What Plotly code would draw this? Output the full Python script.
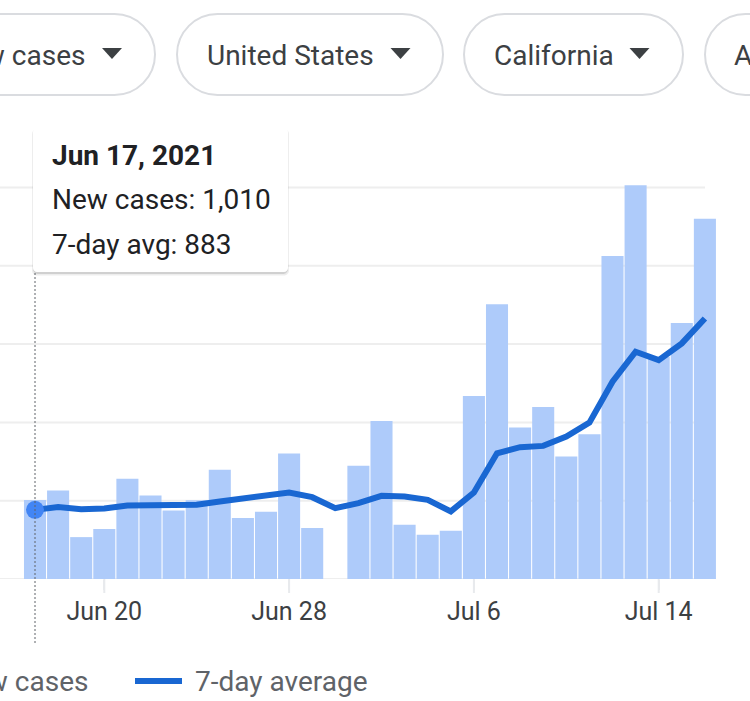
import plotly.graph_objects as go
import pandas as pd

# ---------------- data ----------------
dates = ["2021-06-17", "2021-06-18", "2021-06-19", "2021-06-20", "2021-06-21", "2021-06-22",
         "2021-06-23", "2021-06-24", "2021-06-25", "2021-06-26", "2021-06-27", "2021-06-28",
         "2021-06-29", "2021-06-30", "2021-07-01", "2021-07-02", "2021-07-03", "2021-07-04",
         "2021-07-05", "2021-07-06", "2021-07-07", "2021-07-08", "2021-07-09", "2021-07-10",
         "2021-07-11", "2021-07-12", "2021-07-13", "2021-07-14", "2021-07-15", "2021-07-16"]
new_cases = [1010, 1130, 535, 637, 1279, 1067, 875, 1007, 1394, 778, 858, 1602,
             650, None, 1445, 2019, 693, 565, 616, 2337, 3510, 1934, 2197, 1564,
             1849, 4125, 5030, 2840, 3270, 4600]
avg_7day = [883, 918, 892, 901, 939, 948, 948, 948, 990, 1024, 1054, 1105,
            1045, 905, 969, 1062, 1054, 1011, 863, 1105, 1606, 1683, 1700, 1819,
            1997, 2520, 2903, 2796, 3009, 3328]
tick_vals = ["2021-06-20", "2021-06-28", "2021-07-06", "2021-07-14"]
tick_text = ["Jun 20", "Jun 28", "Jul 6", "Jul 14"]
grid_vals = [0, 1000, 2000, 3000, 4000, 5000]
filters = ["New cases", "United States", "California", "A"]
legend_labels = ["New cases", "7-day average"]
tooltip_title = "Jun 17, 2021"
tooltip_lines = ["New cases: 1,010", "7-day avg: 883"]

# ---------------- layout geometry ----------------
W, H = 750, 701
M_T, M_B = 180, 122
PH = H - M_T - M_B
BASE = M_T + PH
PX_PER_DAY = 23.1
FIRST_PX = 35.0

BAR_C = "#aecbfa"
LINE_C = "#1967d2"
DOT_C = "#4285f4"
GRID_C = "#eeeeee"
TEXT_C = "#3c4043"
LEG_C = "#5f6368"
BORDER_C = "#dadce0"
TICK_C = "#e8eaed"


def px_x(px):
    return px / W


def px_y(py):
    return (BASE - py) / PH


def P(x, y):
    return f"{px_x(x):.5f},{px_y(y):.5f}"


def rr_path(x0, y0, x1, y1, r):
    k = 0.5523 * r
    return (f"M{P(x0 + r, y0)} L{P(x1 - r, y0)} "
            f"C{P(x1 - r + k, y0)} {P(x1, y0 + r - k)} {P(x1, y0 + r)} "
            f"L{P(x1, y1 - r)} "
            f"C{P(x1, y1 - r + k)} {P(x1 - r + k, y1)} {P(x1 - r, y1)} "
            f"L{P(x0 + r, y1)} "
            f"C{P(x0 + r - k, y1)} {P(x0, y1 - r + k)} {P(x0, y1 - r)} "
            f"L{P(x0, y0 + r)} "
            f"C{P(x0, y0 + r - k)} {P(x0 + r - k, y0)} {P(x0 + r, y0)} Z")


d0 = pd.Timestamp(dates[0])
x_start = d0 - pd.Timedelta(days=FIRST_PX / PX_PER_DAY)
x_end = d0 + pd.Timedelta(days=(W - FIRST_PX) / PX_PER_DAY)
y_max = PH / 78.3 * 1000

fig = go.Figure()
fig.add_trace(go.Bar(x=dates, y=new_cases, marker=dict(color=BAR_C, line=dict(width=0)),
                     name=legend_labels[0], hoverinfo="skip"))
fig.add_trace(go.Scatter(x=dates, y=avg_7day, mode="lines",
                         line=dict(color=LINE_C, width=6), name=legend_labels[1],
                         hoverinfo="skip"))
fig.add_trace(go.Scatter(x=[dates[0]], y=[avg_7day[0]], mode="markers",
                         marker=dict(color=DOT_C, size=18, line=dict(width=0)),
                         hoverinfo="skip", showlegend=False))

shapes = []
# gridlines
for v in grid_vals:
    shapes.append(dict(type="line", xref="paper", yref="y", x0=-0.01,
                       x1=px_x(716 if v == 0 else 705), y0=v, y1=v,
                       line=dict(color=GRID_C, width=2), layer="below"))
# longer tick marks
for tv in tick_vals:
    shapes.append(dict(type="line", xref="x", yref="paper", x0=tv, x1=tv,
                       y0=px_y(BASE), y1=px_y(593),
                       line=dict(color=TICK_C, width=2), layer="below"))

# dotted cursor line
shapes.append(dict(type="line", xref="x", yref="paper", x0=dates[0], x1=dates[0],
                   y0=px_y(643), y1=px_y(272),
                   line=dict(color="#5f6368", width=1, dash="2px,2px"), layer="above"))

# tooltip box with shadow
tb = (33, 128, 288, 272)
shapes.append(dict(type="path", xref="paper", yref="paper",
                   path=rr_path(tb[0] - 1, tb[1] + 1, tb[2] + 1, tb[3] + 3.5, 5),
                   fillcolor="rgba(0,0,0,0.07)", line=dict(width=0), layer="above"))
shapes.append(dict(type="path", xref="paper", yref="paper",
                   path=rr_path(tb[0], tb[1] + 1, tb[2], tb[3] + 2, 5),
                   fillcolor="rgba(0,0,0,0.12)", line=dict(width=0), layer="above"))
shapes.append(dict(type="path", xref="paper", yref="paper",
                   path=rr_path(*tb, 4), fillcolor="white",
                   line=dict(width=0), layer="above"))

# filter pills
pills = [(-130, 155), (177, 443), (464, 683), (705, 960)]
arrows = [112, 400.5, 639.5]
for (a, b) in pills:
    shapes.append(dict(type="path", xref="paper", yref="paper",
                       path=rr_path(a, 14, b, 95, 40.5), fillcolor="white",
                       line=dict(color=BORDER_C, width=2), layer="above"))
for cx in arrows:
    shapes.append(dict(type="path", xref="paper", yref="paper",
                       path=f"M{P(cx - 10, 48)} L{P(cx + 10, 48)} L{P(cx, 59)} Z",
                       fillcolor=TEXT_C, line=dict(width=0), layer="above"))

# legend swatch for line
shapes.append(dict(type="line", xref="paper", yref="paper", x0=px_x(135), x1=px_x(182),
                   y0=px_y(681), y1=px_y(681), line=dict(color=LINE_C, width=6),
                   layer="above"))

ann = []
FONT = "Roboto, Arial, sans-serif"
# filter texts
ann.append(dict(text=filters[0], x=px_x(87), xanchor="right", y=px_y(55), yanchor="middle"))
ann.append(dict(text=filters[1], x=px_x(205), xanchor="left", y=px_y(55), yanchor="middle"))
ann.append(dict(text=filters[2], x=px_x(492), xanchor="left", y=px_y(55), yanchor="middle"))
ann.append(dict(text=filters[3], x=px_x(732), xanchor="left", y=px_y(55), yanchor="middle"))
for a_ in ann:
    a_.update(xref="paper", yref="paper", showarrow=False,
              font=dict(family=FONT, size=28, color=TEXT_C))

# tooltip texts
ann.append(dict(text=f"<b>{tooltip_title}</b>", x=px_x(50), y=px_y(155),
                font=dict(family=FONT, size=28, color="#202124")))
ann.append(dict(text=tooltip_lines[0], x=px_x(50), y=px_y(199),
                font=dict(family=FONT, size=28, color="#202124")))
ann.append(dict(text=tooltip_lines[1], x=px_x(50), y=px_y(244),
                font=dict(family=FONT, size=28, color="#202124")))
# legend texts
ann.append(dict(text=legend_labels[0], x=px_x(90), y=px_y(681), xanchor="right",
                font=dict(family=FONT, size=28, color=LEG_C)))
ann.append(dict(text=legend_labels[1], x=px_x(193), y=px_y(681),
                font=dict(family=FONT, size=28, color=LEG_C)))
for a_ in ann[4:]:
    a_.setdefault("xanchor", "left")
    a_.update(xref="paper", yref="paper", showarrow=False, yanchor="middle")

fig.update_layout(
    width=W, height=H,
    margin=dict(l=0, r=0, t=M_T, b=M_B, pad=0),
    paper_bgcolor="white", plot_bgcolor="white",
    showlegend=False, bargap=0.045,
    shapes=shapes, annotations=ann,
    xaxis=dict(type="date", range=[x_start, x_end], tickvals=tick_vals, ticktext=tick_text,
               ticks="outside", ticklen=10, tickwidth=2, tickcolor=TICK_C,
               showgrid=False, showline=False, zeroline=False,
               tickfont=dict(family=FONT, size=25, color=TEXT_C)),
    yaxis=dict(range=[0, y_max], showgrid=False, zeroline=False, showticklabels=False,
               showline=False, ticks=""),
    hovermode=False,
)

fig.write_html("out.html", config={"displayModeBar": False})
